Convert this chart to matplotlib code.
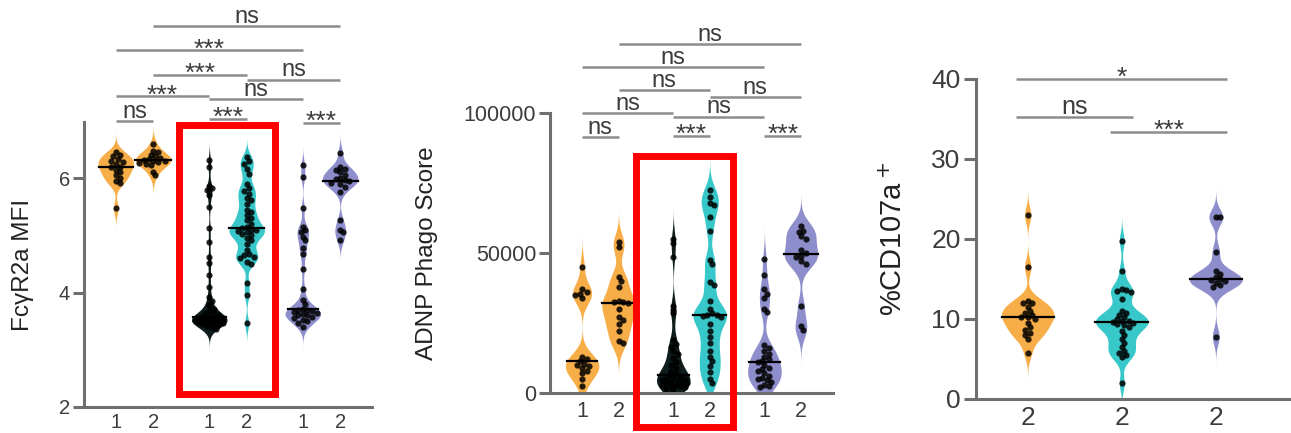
import numpy as np
import matplotlib.pyplot as plt
from matplotlib.patches import Rectangle

plt.rcParams['font.family'] = ['Liberation Sans', 'DejaVu Sans']

ORANGE = "#F7AE48"
TEAL = "#38C8CA"
DARK = "#0f1d1d"
PURPLE = "#8E8ECC"
AXIS_GRAY = "#6f6f6f"
BAR_GRAY = "#8c8c8c"
TEXT_GRAY = "#3c3c3c"

# FcγR2a MFI
mfi_labels = ["1", "2", "1", "2", "1", "2"]
mfi_a1 = [6.45, 6.40, 6.38, 6.33, 6.30, 6.28, 6.25, 6.20, 6.19, 6.14, 6.10, 6.05, 6.00, 5.95, 5.91, 5.47]
mfi_a2 = [6.60, 6.48, 6.45, 6.40, 6.38, 6.35, 6.33, 6.32, 6.30, 6.30, 6.28, 6.27, 6.25, 6.22, 6.10, 6.05]
mfi_b1 = [6.31, 6.19, 5.87, 5.82, 5.79, 5.70, 5.50, 5.12, 4.89, 4.62, 4.51, 4.30, 4.10, 3.92, 3.85,
          3.78, 3.72, 3.68, 3.65, 3.62, 3.60, 3.58, 3.57, 3.56, 3.55, 3.55, 3.54, 3.53, 3.53, 3.52,
          3.52, 3.51, 3.50, 3.50, 3.49, 3.48, 3.47, 3.46, 3.45, 3.44, 3.42, 3.40, 3.36]
mfi_b2 = [6.37, 6.30, 6.25, 6.15, 6.08, 5.90, 5.82, 5.78, 5.73, 5.65, 5.61, 5.55, 5.44, 5.40, 5.35,
          5.30, 5.26, 5.20, 5.15, 5.12, 5.10, 5.09, 5.08, 5.05, 5.03, 5.00, 4.95, 4.91, 4.85, 4.75,
          4.68, 4.65, 4.62, 4.60, 4.54, 4.50, 4.16, 3.95, 3.46]
mfi_c1 = [6.22, 6.02, 5.47, 5.15, 5.10, 5.05, 4.97, 4.91, 4.77, 4.68, 4.42, 4.07, 3.87, 3.80, 3.72,
          3.70, 3.69, 3.68, 3.66, 3.65, 3.63, 3.61, 3.60, 3.58, 3.55, 3.52, 3.50, 3.46, 3.40]
mfi_c2 = [6.43, 6.20, 6.15, 6.14, 6.10, 6.05, 6.00, 5.98, 5.96, 5.95, 5.92, 5.90, 5.85, 5.76, 5.26,
          5.10, 5.06, 4.91]
mfi_sig = [(0, 1, 6.99, "ns"), (2, 3, 7.04, "***"), (4, 5, 6.97, "***"),
           (0, 2, 7.43, "***"), (2, 4, 7.38, "ns"), (1, 3, 7.80, "***"),
           (3, 5, 7.72, "ns"), (0, 4, 8.23, "***"), (1, 5, 8.65, "ns")]

# ADNP phagocytosis score
adnp_labels = ["1", "2", "1", "2", "1", "2"]
adnp_a1 = [45000, 37000, 36000, 35500, 35000, 34000, 13000, 12000, 11500, 10500, 10000, 9500,
           9000, 8000, 7000, 5000, 2500]
adnp_a2 = [54000, 52000, 41500, 40000, 38000, 33000, 32600, 32500, 32000, 30000, 27000, 26000,
           24500, 22000, 18500, 18000]
adnp_b1 = [55000, 53500, 48500, 31000, 29500, 28500, 19000, 17500, 16500, 15000, 14000, 12500,
           11000, 10000, 9000, 8000, 7000, 6500, 6000, 5500, 5000, 5000, 4500, 4500, 4000, 4000,
           3500, 3500, 3000, 3000, 2500, 2500, 2000, 1500, 1000]
adnp_b2 = [72500, 70000, 68000, 67000, 63000, 58000, 47500, 46000, 39500, 38500, 33000, 30000,
           28500, 28000, 27800, 27500, 27000, 24500, 22000, 20000, 18000, 15000, 13000, 11500,
           9500, 7500, 5000, 3500]
adnp_c1 = [48000, 42000, 37000, 35500, 34000, 30000, 29000, 17000, 16000, 15000, 14000, 13000,
           12000, 11500, 11000, 10000, 9000, 8500, 8000, 7000, 6000, 5500, 5000, 4500, 4000,
           3000, 2500, 2000]
adnp_c2 = [59500, 58000, 57500, 56000, 55000, 51000, 50000, 49000, 48500, 47000, 46000, 31000,
           24000, 22500]
adnp_sig = [(0, 1, 91400, "ns"), (2, 3, 91800, "***"), (4, 5, 91800, "***"),
            (0, 2, 100000, "ns"), (2, 4, 98600, "ns"), (1, 3, 108200, "ns"),
            (3, 5, 105700, "ns"), (0, 4, 116400, "ns"), (1, 5, 124600, "ns")]

# %CD107a+
cd_labels = ["2", "2", "2"]
cd_a = [23.0, 16.5, 12.2, 12.0, 12.0, 11.5, 11.0, 10.7, 10.5, 10.3, 10.2, 10.0, 9.5, 9.0, 8.6,
        8.3, 8.0, 7.5, 5.8]
cd_b = [19.8, 16.0, 13.8, 13.6, 13.5, 13.4, 12.5, 11.0, 10.8, 10.5, 10.2, 10.0, 9.8, 9.7, 9.6,
        9.5, 9.4, 9.2, 9.0, 8.5, 8.0, 7.5, 7.0, 6.5, 6.0, 5.8, 5.5, 5.2, 2.0]
cd_c = [22.8, 22.7, 18.4, 16.0, 15.6, 15.2, 15.0, 14.9, 14.8, 14.5, 14.2, 14.0, 7.8]
cd_sig = [(0, 2, 40.0, "*"), (0, 1, 35.25, "ns"), (1, 2, 33.4, "***")]

pair_pos = [0, 1, 2.5, 3.5, 5, 6]
pair_colors = [ORANGE, ORANGE, DARK, TEAL, PURPLE, PURPLE]


def kde_shape(vals, bw, width):
    v = np.asarray(vals, float)
    grid = np.linspace(v.min() - 4 * bw, v.max() + 4 * bw, 500)
    dens = np.exp(-0.5 * ((grid[:, None] - v[None, :]) / bw) ** 2).sum(1)
    return grid, dens / dens.max() * width / 2


def violin(ax, vals, pos, color, bw, width):
    grid, half = kde_shape(vals, bw, width)
    ax.fill_betweenx(grid, pos - half, pos + half, color=color, lw=0, zorder=1)
    med = np.median(vals)
    hm = np.interp(med, grid, half)
    ax.plot([pos - hm, pos + hm], [med, med], color="black", lw=1.6, zorder=3)
    return grid, half


def swarm(ax, vals, pos, grid, half, dot_px=4.6):
    # simple beeswarm in pixel space, kept inside the violin outline
    to_px = ax.transData
    placed = []
    for val in vals:
        x0, y0 = to_px.transform((pos, val))
        hw = to_px.transform((pos + np.interp(val, grid, half), val))[0] - x0
        hw = max(hw * 0.85, 0.0)
        cands = [0.0]
        k = 1
        while k * dot_px * 0.5 <= hw:
            cands += [k * dot_px * 0.5, -k * dot_px * 0.5]
            k += 1
        best, best_d = 0.0, -1
        for dx in cands:
            d = min([np.hypot(x0 + dx - px, y0 - py) for px, py in placed] or [1e9])
            if d >= dot_px:
                best = dx
                break
            if d > best_d:
                best, best_d = dx, d
        placed.append((x0 + best, y0))
    pts = to_px.inverted().transform(np.array(placed))
    ax.scatter(pts[:, 0], pts[:, 1], s=20, marker="o", color="black", alpha=0.85,
               linewidths=0, zorder=2)


def style_axis(ax, tick_size):
    for side in ("top", "right"):
        ax.spines[side].set_visible(False)
    for side in ("left", "bottom"):
        ax.spines[side].set_color(AXIS_GRAY)
        ax.spines[side].set_linewidth(2.2)
    ax.tick_params(axis="y", length=8, width=2.2, color=AXIS_GRAY, labelsize=tick_size,
                   labelcolor=TEXT_GRAY, pad=2)
    ax.tick_params(axis="x", length=0, labelsize=tick_size, labelcolor=TEXT_GRAY, pad=4)


def sig_bars(ax, items, xs, fs_ns, fs_star, pad=0.0):
    for i, j, y, lab in items:
        x1, x2 = xs[i] - pad, xs[j] + pad
        ax.plot([x1, x2], [y, y], color=BAR_GRAY, lw=1.8, clip_on=False, solid_capstyle="butt")
        if lab == "ns":
            ax.annotate(lab, xy=((x1 + x2) / 2, y), xytext=(0, 2.5), textcoords="offset points",
                        ha="center", va="baseline", fontsize=fs_ns, color=TEXT_GRAY,
                        annotation_clip=False)
        else:
            ax.annotate(lab, xy=((x1 + x2) / 2, y), xytext=(0, -4.5), textcoords="offset points",
                        ha="center", va="baseline", fontsize=fs_star, color=TEXT_GRAY,
                        annotation_clip=False)


fig = plt.figure(figsize=(12.91, 4.33), dpi=100)

# FcγR2a MFI
ax1 = fig.add_axes([84 / 1291, 1 - 407 / 433, 288 / 1291, 285 / 433])
ax1.set_xlim(-0.85, 6.85)
ax1.set_ylim(2, 6.98)
for vals, pos, col in zip([mfi_a1, mfi_a2, mfi_b1, mfi_b2, mfi_c1, mfi_c2], pair_pos, pair_colors):
    g, h = violin(ax1, vals, pos, col, 0.11, 0.95)
    swarm(ax1, vals, pos, g, h)
ax1.set_yticks([2, 4, 6])
ax1.set_xticks(pair_pos)
ax1.set_xticklabels(mfi_labels)
style_axis(ax1, 14.5)
ax1.set_ylabel("FcγR2a MFI", fontsize=17.5, color="#222222")
ax1.yaxis.set_label_coords(-0.172, 0.5)
sig_bars(ax1, mfi_sig, pair_pos, 17, 19)
ax1.add_patch(Rectangle((1.69, 2.22), 2.56, 4.71, fill=False, ec="red", lw=5,
                        clip_on=False, zorder=5))

# ADNP phagocytosis score
ax2 = fig.add_axes([550 / 1291, 1 - 393 / 433, 283 / 1291, 280 / 433])
ax2.set_xlim(-0.88, 6.88)
ax2.set_ylim(0, 100000)
for vals, pos, col in zip([adnp_a1, adnp_a2, adnp_b1, adnp_b2, adnp_c1, adnp_c2], pair_pos, pair_colors):
    g, h = violin(ax2, vals, pos, col, 3600, 0.92)
    swarm(ax2, vals, pos, g, h)
ax2.set_yticks([0, 50000, 100000])
ax2.set_yticklabels(["0", "50000", "100000"])
ax2.set_xticks(pair_pos)
ax2.set_xticklabels(adnp_labels)
style_axis(ax2, 15.5)
ax2.tick_params(axis="x", pad=6)
ax2.set_ylabel("ADNP Phago Score", fontsize=17.5, color="#222222")
ax2.yaxis.set_label_coords(-0.396, 0.5)
sig_bars(ax2, adnp_sig, pair_pos, 17, 19)
ax2.add_patch(Rectangle((1.49, -12000), 2.66, 96500, fill=False, ec="red", lw=5,
                        clip_on=False, zorder=5))

# %CD107a+
cd_pos = [0, 1, 2]
ax3 = fig.add_axes([976 / 1291, 1 - 399 / 433, 315 / 1291, 320 / 433])
ax3.set_xlim(-0.55, 2.8)
ax3.set_ylim(0, 40)
for vals, pos, col in zip([cd_a, cd_b, cd_c], cd_pos, [ORANGE, TEAL, PURPLE]):
    g, h = violin(ax3, vals, pos, col, 1.0, 0.56)
    swarm(ax3, vals, pos, g, h)
ax3.set_yticks([0, 10, 20, 30, 40])
ax3.set_xticks(cd_pos)
ax3.set_xticklabels(cd_labels)
style_axis(ax3, 19)
ax3.tick_params(axis="y", length=9)
ax3.tick_params(axis="x", pad=5)
ax3.set_ylabel("%CD107a$^+$", fontsize=21, color="#222222")
ax3.yaxis.set_label_coords(-0.216, 0.5)
sig_bars(ax3, cd_sig, cd_pos, 18, 19, pad=0.12)

fig.savefig("out.png", dpi=100)
